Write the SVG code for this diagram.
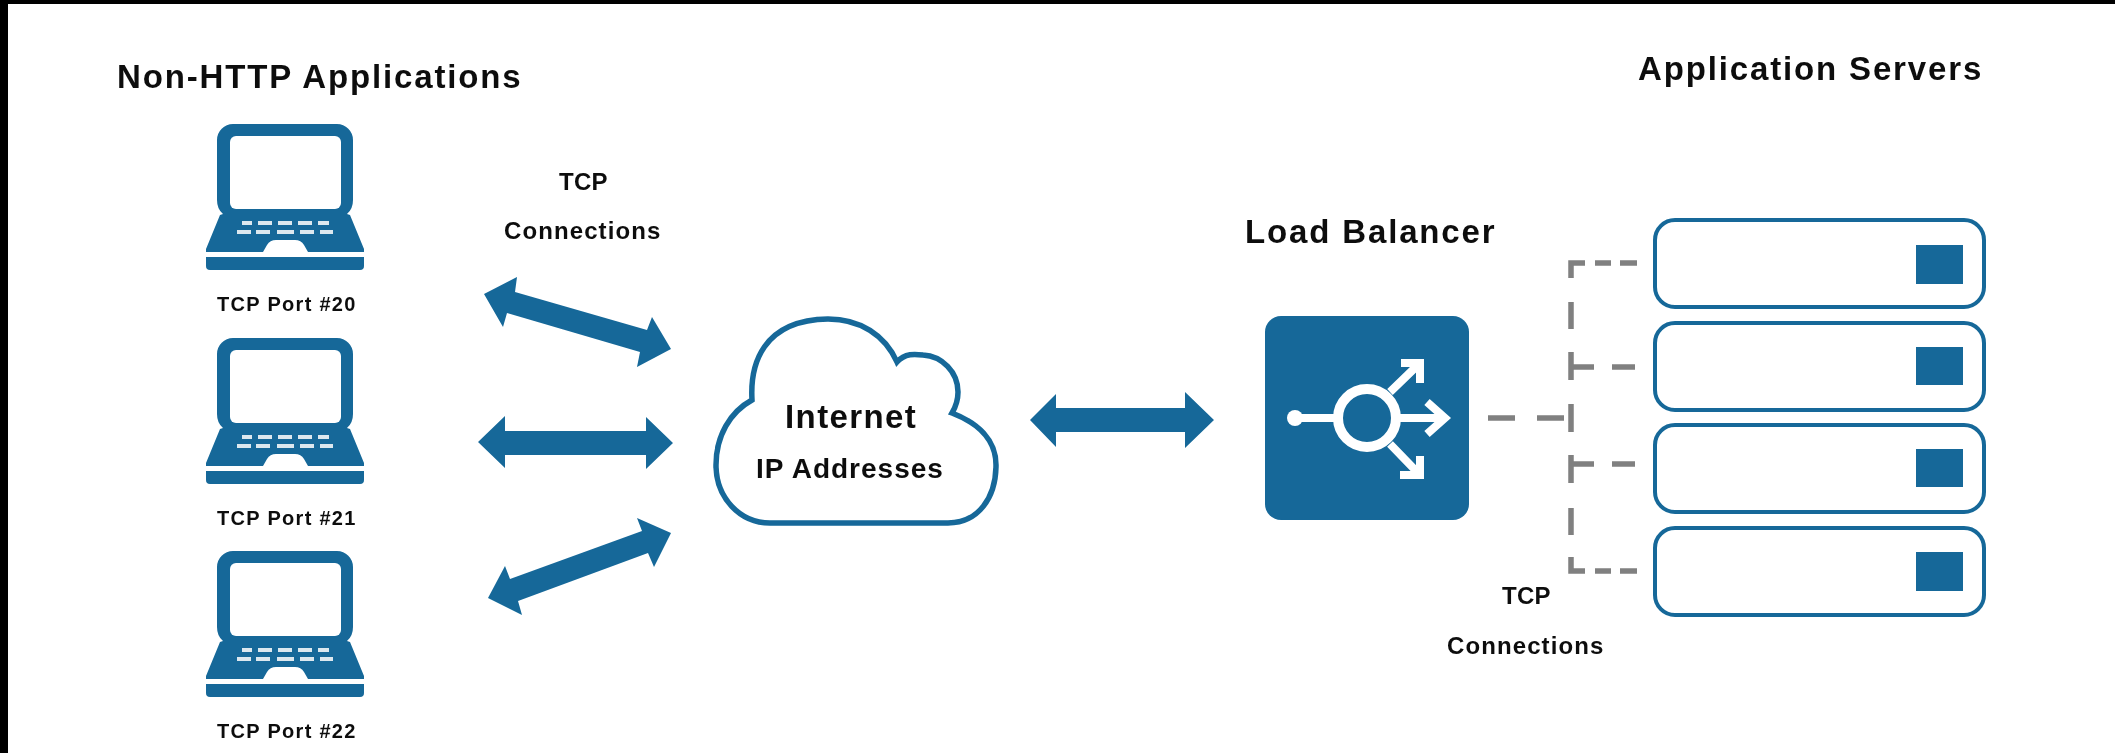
<svg xmlns="http://www.w3.org/2000/svg" xmlns:xlink="http://www.w3.org/1999/xlink" width="2115" height="753" viewBox="0 0 2115 753">
<style>
text{font-family:"Liberation Sans",Arial,sans-serif;font-weight:bold;fill:#111}
.title{font-size:33px;letter-spacing:1.85px}
.inet{font-size:33px;letter-spacing:1.4px}
.addr{font-size:28px;letter-spacing:1px}
.small{font-size:24px;letter-spacing:1.1px}
.tcp{font-size:24px;letter-spacing:.3px}
.port{font-size:20px;letter-spacing:1.3px}
.blue{fill:#156899}
.arrow{fill:#156899}
.srv{fill:#fff;stroke:#156899;stroke-width:4}
.dash{fill:none;stroke:#808080;stroke-width:5.5}
.ico{fill:none;stroke:#fff;stroke-width:8}
.key{fill:#fff;opacity:.85}
</style>
<defs>
<filter id="soft" x="0" y="0" width="100%" height="100%" filterUnits="userSpaceOnUse"><feGaussianBlur stdDeviation="0.7"/></filter>
<symbol id="laptop" overflow="visible" width="2115" height="753" viewBox="0 0 2115 753">
<path class="blue" d="M233 124H337A16 16 0 0 1 353 140V200Q353 209 347 214L350 215L364 249V252H308L304 245Q301 240 295 240H276Q270 240 267 245L263 252H206V249L220 215L223 214Q217 209 217 200V140A16 16 0 0 1 233 124Z"/>
<rect x="230" y="136" width="111" height="73" rx="6" fill="#fff"/>
<path class="blue" d="M206 257H364V266Q364 270 360 270H210Q206 270 206 266Z"/>
<g class="key">
<rect x="242" y="221" width="10" height="4"/><rect x="258" y="221" width="14" height="4"/><rect x="278" y="221" width="14" height="4"/><rect x="298" y="221" width="14" height="4"/><rect x="318" y="221" width="11" height="4"/>
<rect x="237" y="230" width="14" height="4"/><rect x="256" y="230" width="14" height="4"/><rect x="277" y="230" width="17" height="4"/><rect x="300" y="230" width="14" height="4"/><rect x="320" y="230" width="13" height="4"/>
</g>
</symbol>
</defs>
<rect width="2115" height="753" fill="#fff"/>
<g filter="url(#soft)">
<g id="labels">
<text class="title" x="117" y="88">Non-HTTP Applications</text>
<text class="title" x="1638" y="80">Application Servers</text>
<text class="tcp" x="559" y="190">TCP</text>
<text class="small" x="504" y="239">Connections</text>
<text class="tcp" x="1502" y="604">TCP</text>
<text class="small" x="1447" y="654">Connections</text>
</g>
<g id="laptop-20"><use href="#laptop"/><text class="port" x="217" y="311">TCP Port #20</text></g>
<g id="laptop-21"><use href="#laptop" y="214"/><text class="port" x="217" y="525">TCP Port #21</text></g>
<g id="laptop-22"><use href="#laptop" y="427"/><text class="port" x="217" y="738">TCP Port #22</text></g>
<g id="cloud">
<path d="M752 400C750 365 762 320 828 319C860 319 885 335 897 362C905 353 915 354 923 355C942 356 958 372 958 392C958 400 955 408 952 413C978 423 996 440 996 465C996 498 978 523 948 523H770C740 523 716 498 716 465C716 436 730 412 752 400Z" fill="#fff" stroke="#156899" stroke-width="5.500"/>
<text class="inet" x="785" y="428">Internet</text>
<text class="addr" x="756" y="478">IP Addresses</text>
</g>
<g id="load-balancer">
<text class="title" x="1245" y="243">Load Balancer</text>
<rect class="blue" x="1265" y="316" width="204" height="204" rx="16"/>
<circle cx="1367" cy="418" r="29" fill="none" stroke="#fff" stroke-width="10"/>
<circle cx="1295" cy="418" r="8" fill="#fff"/>
<path class="ico" d="M1295 418H1338M1396 418H1444M1427 402L1445 418L1427 434M1390 392L1420 363M1401 363H1420V383M1390 444L1420 475M1400 475H1420V456"/>
</g>
<g id="server-1"><rect class="srv" x="1655" y="220" width="329" height="87" rx="20"/><rect class="blue" x="1916" y="245" width="47" height="39"/></g>
<g id="server-2"><rect class="srv" x="1655" y="323" width="329" height="87" rx="20"/><rect class="blue" x="1916" y="347" width="47" height="38"/></g>
<g id="server-3"><rect class="srv" x="1655" y="425" width="329" height="87" rx="20"/><rect class="blue" x="1916" y="449" width="47" height="38"/></g>
<g id="server-4"><rect class="srv" x="1655" y="528" width="329" height="87" rx="20"/><rect class="blue" x="1916" y="552" width="47" height="39"/></g>
<g id="connectors">
<path class="arrow" d="M484 294L517 277L515 292L647 330L652 317L671 349L637 367L640 352L507 313L503 327Z"/>
<path class="arrow" d="M478 442L505 416V431H646V417L673 443L646 469V455H505V468Z"/>
<path class="arrow" d="M488 598L505 566L510 579L642 531L637 518L671 533L654 567L648 553L518 601L522 615Z"/>
<path class="arrow" d="M1030 420L1056 394V408H1185V392L1214 420L1185 448V432H1056V447Z"/>
<path class="dash" d="M1637 263H1620M1611 263H1595M1585 263H1571V278M1571 302V329M1571 352V380M1571 404V432M1571 455V483M1571 508V535M1571 557V571H1585M1595 571H1611M1620 571H1637M1571 367H1594M1612 367H1635M1571 464H1594M1612 464H1635M1488 418H1515M1537 418H1564"/>
</g>
</g>
<rect width="2115" height="4" fill="#000"/>
<rect width="8" height="753" fill="#000"/>
</svg>
